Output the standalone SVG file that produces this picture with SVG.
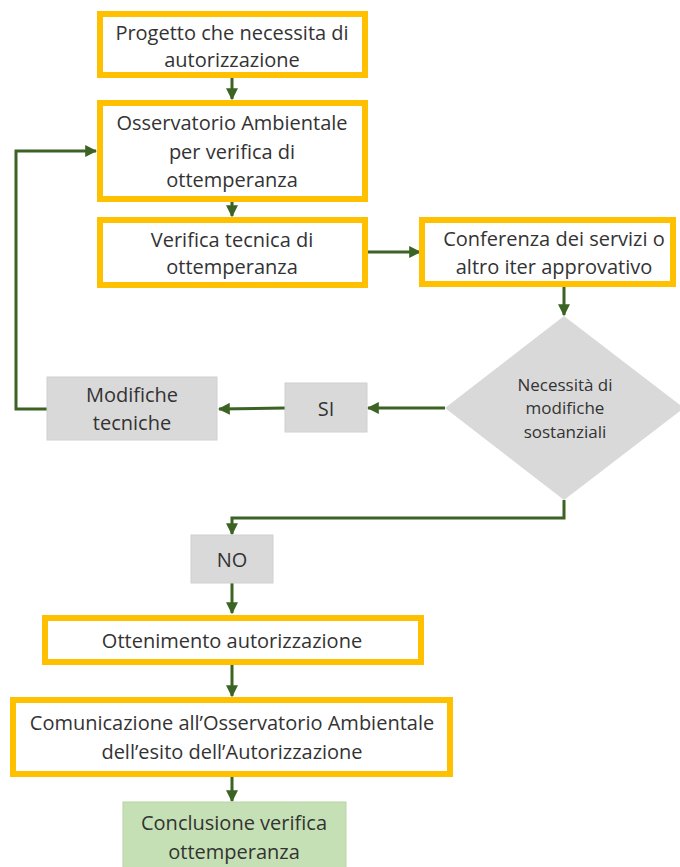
<svg xmlns="http://www.w3.org/2000/svg" width="680" height="867" viewBox="0 0 680 867">
<style>
.box{fill:#ffffff;stroke:#FFC000;stroke-width:6}
.gray{fill:#D9D9D9;stroke:#D0D0D0;stroke-width:1}
.green{fill:#C5E0B4;stroke:#B8D4A6;stroke-width:1}
.t{font-family:"Open Sans","Liberation Sans",sans-serif;font-size:20px;fill:#333333;text-anchor:middle}
.ts{font-family:"Open Sans","Liberation Sans",sans-serif;font-size:17px;fill:#333333;text-anchor:middle}
.c{fill:none;stroke:#3B6324;stroke-width:3}
</style>
<defs>
<marker id="ah" viewBox="0 0 10 10" refX="9" refY="5" markerWidth="4" markerHeight="4" orient="auto" markerUnits="strokeWidth">
<path d="M0,0 L10,5 L0,10 z" fill="#3B6324"/>
</marker>
</defs>
<g id="connectors">
<path class="c" d="M232,78 L232,99" marker-end="url(#ah)"/>
<path class="c" d="M232,202 L232,216" marker-end="url(#ah)"/>
<path class="c" d="M368,252 L420,252" marker-end="url(#ah)"/>
<path class="c" d="M564,287 L564,315" marker-end="url(#ah)"/>
<path class="c" d="M445,408 L368,408" marker-end="url(#ah)"/>
<path class="c" d="M285,408 L219,409" marker-end="url(#ah)"/>
<path class="c" d="M47,409 L16,409 L16,151 L96,151" marker-end="url(#ah)"/>
<path class="c" d="M564,500 L564,518 L232,518 L232,534" marker-end="url(#ah)"/>
<path class="c" d="M232,583 L232,613" marker-end="url(#ah)"/>
<path class="c" d="M232,665 L232,696" marker-end="url(#ah)"/>
<path class="c" d="M232,777 L232,801" marker-end="url(#ah)"/>
</g>
<g id="n1">
<rect class="box" x="100" y="14" width="265" height="61"/>
<text class="t" x="232" y="40">Progetto che necessita di</text>
<text class="t" x="232" y="67">autorizzazione</text>
</g>
<g id="n2">
<rect class="box" x="100" y="103" width="265" height="96"/>
<text class="t" x="232" y="130">Osservatorio Ambientale</text>
<text class="t" x="232" y="159">per verifica di</text>
<text class="t" x="232" y="187">ottemperanza</text>
</g>
<g id="n3">
<rect class="box" x="100" y="220" width="265" height="65"/>
<text class="t" x="232" y="247">Verifica tecnica di</text>
<text class="t" x="232" y="274">ottemperanza</text>
</g>
<g id="n4">
<rect class="box" x="422" y="220" width="251" height="64"/>
<text class="t" x="554" y="246">Conferenza dei servizi o</text>
<text class="t" x="554" y="274">altro iter approvativo</text>
</g>
<g id="n5">
<polygon fill="#D9D9D9" points="564,316 684,408 564,500 445,408"/>
<text class="ts" x="565" y="391">Necessità di</text>
<text class="ts" x="565" y="414">modifiche</text>
<text class="ts" x="565" y="438">sostanziali</text>
</g>
<g id="n6">
<rect class="gray" x="285" y="383" width="82" height="49"/>
<text class="t" x="326" y="416">SI</text>
</g>
<g id="n7">
<rect class="gray" x="47" y="377" width="170" height="63"/>
<text class="t" x="132" y="402">Modifiche</text>
<text class="t" x="132" y="430">tecniche</text>
</g>
<g id="n8">
<rect class="gray" x="191" y="535" width="82" height="48"/>
<text class="t" x="232" y="567">NO</text>
</g>
<g id="n9">
<rect class="box" x="45" y="618" width="376" height="44"/>
<text class="t" x="232" y="648">Ottenimento autorizzazione</text>
</g>
<g id="n10">
<rect class="box" x="13" y="700" width="437" height="74"/>
<text class="t" x="232" y="730">Comunicazione all’Osservatorio Ambientale</text>
<text class="t" x="232" y="759">dell’esito dell’Autorizzazione</text>
</g>
<g id="n11">
<rect class="green" x="123" y="802" width="223" height="70"/>
<text class="t" x="234" y="830">Conclusione verifica</text>
<text class="t" x="234" y="859">ottemperanza</text>
</g>
</svg>
